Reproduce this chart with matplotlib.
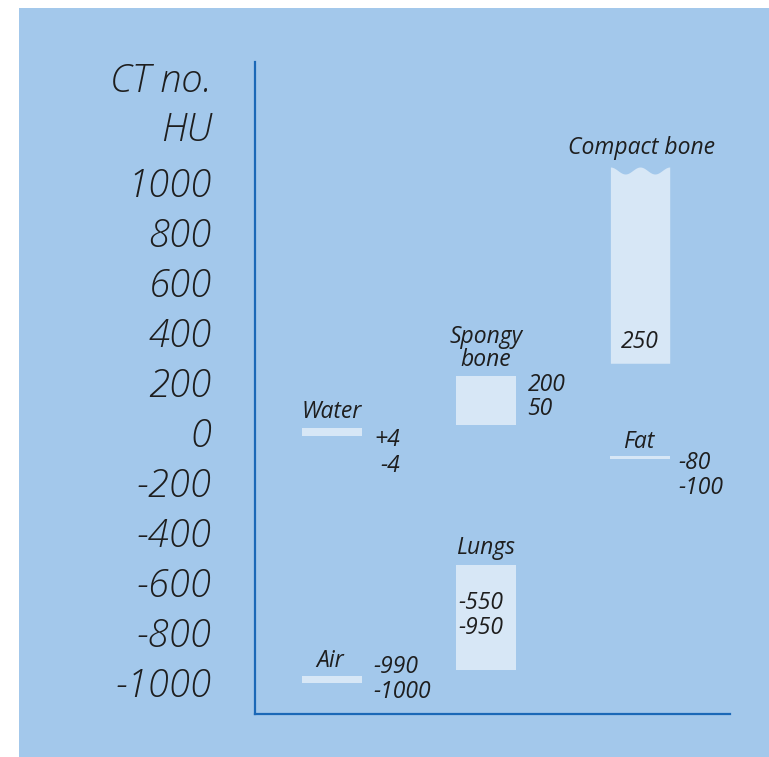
import numpy as np
import matplotlib
matplotlib.use("Agg")
import matplotlib.pyplot as plt
from matplotlib.patches import Rectangle

# ---- data ----
materials = ["Water", "Air", "Spongy\nbone", "Lungs", "Compact bone", "Fat"]
columns = [0, 0, 1, 1, 2, 2]
bar_top = [16, -975, 225, -530, 1060, -95]        # drawn extents (HU)
bar_bottom = [-16, -1005, 30, -950, 275, -107]
range_labels = [["+4", "-4"], ["-990", "-1000"], ["200", "50"],
                ["-550", "-950"], ["250"], ["-80", "-100"]]
yticks = list(range(-1000, 1001, 200))

BG = "#a3c8eb"
BAR = "#d7e7f6"
AX = "#1b68b7"
TXT = "#1e1e1e"
FONT = "Open Sans"

fig = plt.figure(figsize=(7.69, 7.57), dpi=100)
fig.patch.set_facecolor("white")
fig.patches.append(Rectangle((19 / 769, 0), 1 - 19 / 769, 1 - 8 / 757,
                             transform=fig.transFigure, facecolor=BG,
                             edgecolor="none", zorder=-10))

ax = fig.add_axes([255 / 769, 43 / 757, 475 / 769, 652 / 757])
ax.set_zorder(5)
ax.set_facecolor("none")
ax.set_xlim(-0.5, 2.584)
ax.set_ylim(-1128, 1480)
for s in ["top", "right"]:
    ax.spines[s].set_visible(False)
for s in ["left", "bottom"]:
    ax.spines[s].set_color(AX)
    ax.spines[s].set_linewidth(1.6)
ax.set_xticks([])
ax.set_yticks(yticks)
ax.set_yticklabels([str(v) for v in yticks], fontsize=27.5, style="italic",
                   family=FONT, weight="light", color=TXT)
ax.tick_params(axis="y", length=0, pad=31)

W = 0.385
for i, (c, t, b) in enumerate(zip(columns, bar_top, bar_bottom)):
    if materials[i] == "Compact bone":
        xs = np.linspace(c - W / 2, c + W / 2, 60)
        u = (xs - (c - W / 2)) / W
        wave = t - 28 * (np.sin(np.pi * 2 * u) ** 2)
        ax.fill_between(xs, b, wave, color=BAR, lw=0, zorder=2)
    else:
        ax.bar(c, t - b, bottom=b, width=W, color=BAR, lw=0, zorder=2)

tk = dict(style="italic", family=FONT, color=TXT, fontsize=16.5)
# Water
ax.text(0, 80, materials[0], ha="center", va="center", **tk)
ax.text(0.44, -32, range_labels[0][0], ha="right", va="center", **tk)
ax.text(0.44, -138, range_labels[0][1], ha="right", va="center", **tk)
# Air
ax.text(-0.01, -916, materials[1], ha="center", va="center", **tk)
ax.text(0.27, -940, range_labels[1][0], ha="left", va="center", **tk)
ax.text(0.27, -1040, range_labels[1][1], ha="left", va="center", **tk)
# Spongy bone
ax.text(1, 335, materials[2], ha="center", va="center", linespacing=0.95, **tk)
ax.text(1.27, 188, range_labels[2][0], ha="left", va="center", **tk)
ax.text(1.27, 92, range_labels[2][1], ha="left", va="center", **tk)
# Lungs
ax.text(1, -464, materials[3], ha="center", va="center", **tk)
ax.text(0.82, -684, range_labels[3][0], ha="left", va="center", **tk)
ax.text(0.82, -784, range_labels[3][1], ha="left", va="center", **tk)
# Compact bone
ax.text(2.01, 1135, materials[4], ha="center", va="center", **tk)
ax.text(2.0, 362, range_labels[4][0], ha="center", va="center", **tk)
# Fat
ax.text(1.99, -40, materials[5], ha="center", va="center", **tk)
ax.text(2.25, -124, range_labels[5][0], ha="left", va="center", **tk)
ax.text(2.25, -224, range_labels[5][1], ha="left", va="center", **tk)

# axis title
tt = dict(style="italic", family=FONT, weight="light", color=TXT, fontsize=27.5,
          transform=ax.get_yaxis_transform())
ax.text(-43 / 475, 1400, "CT no.", ha="right", va="center", **tt)
ax.text(-43 / 475, 1204, "HU", ha="right", va="center", **tt)

fig.savefig("out.png", dpi=100, facecolor="white")
